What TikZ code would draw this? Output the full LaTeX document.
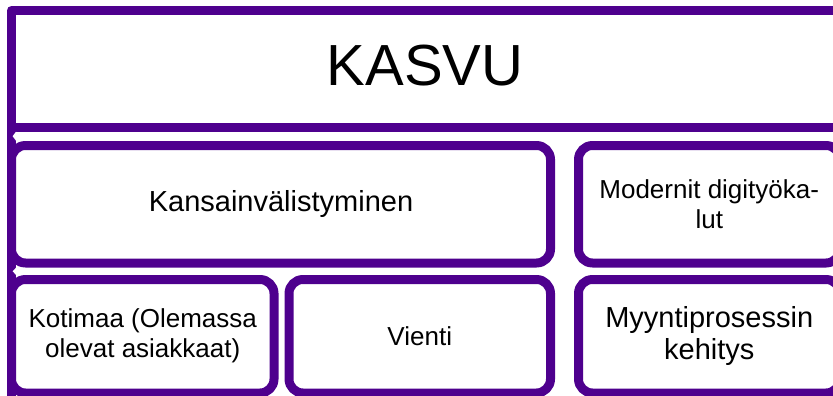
\documentclass[tikz,border=0pt]{standalone}
\usepackage{fontspec}
\setmainfont{Liberation Sans}
\definecolor{frame}{RGB}{78,0,142}
\begin{document}
\begin{tikzpicture}[x=1pt,y=-1pt,
  box/.style={draw=frame, line width=9pt, fill=white, rounded corners=14pt,
    align=center, inner sep=0pt, outer sep=0pt, anchor=center},
  header/.style={draw=frame, line width=9pt, fill=white, line join=round,
    inner sep=0pt, outer sep=0pt, anchor=center},
  txt/.style={font=\fontsize{26}{30}\selectfont},
  bigtxt/.style={font=\fontsize{29}{32}\selectfont},
  notch/.style={fill=white, draw=none}]
\useasboundingbox (0,0) rectangle (833,396);
% left edge of the container
\coordinate (ctop) at (11.5,10.5);
\coordinate (cbot) at (11.5,410);
\draw[frame, line width=9pt] (ctop) -- (cbot);
% header
\node[header, minimum width=828.5pt, minimum height=116.5pt] (kasvu) at (425.75,68.75) {};
\node[font=\fontsize{58}{60}\selectfont] (kasvut) at (425,66) {KASVU};
% upper row
\node[box, bigtxt, minimum width=539pt, minimum height=117.5pt] (kans) at (281,204.25) {Kansainvälistyminen};
\node[box, txt, minimum width=261.5pt, minimum height=117.5pt] (digi) at (709.25,204.25) {Modernit digityöka-\\lut};
% lower row
\node[box, txt, minimum width=262.5pt, minimum height=113.5pt] (koti) at (142.75,336.25) {Kotimaa (Olemassa\\olevat asiakkaat)};
\node[box, txt, minimum width=261.5pt, minimum height=113.5pt] (vienti) at (419.75,336.25) {Vienti};
\node[box, bigtxt, minimum width=261.5pt, minimum height=113.5pt] (myynti) at (709.25,336.25) {Myyntiprosessin\\kehitys};
% small gaps in the container edge between the rows
\fill[notch] (16.2,131.5) .. controls (15,134) .. (12.6,136.2) .. controls (15,138.5) .. (16.2,141) -- cycle;
\fill[notch] (16.2,267.5) .. controls (15,269.5) .. (12.6,271.3) .. controls (15,273) .. (16.2,275) -- cycle;
\end{tikzpicture}
\end{document}
